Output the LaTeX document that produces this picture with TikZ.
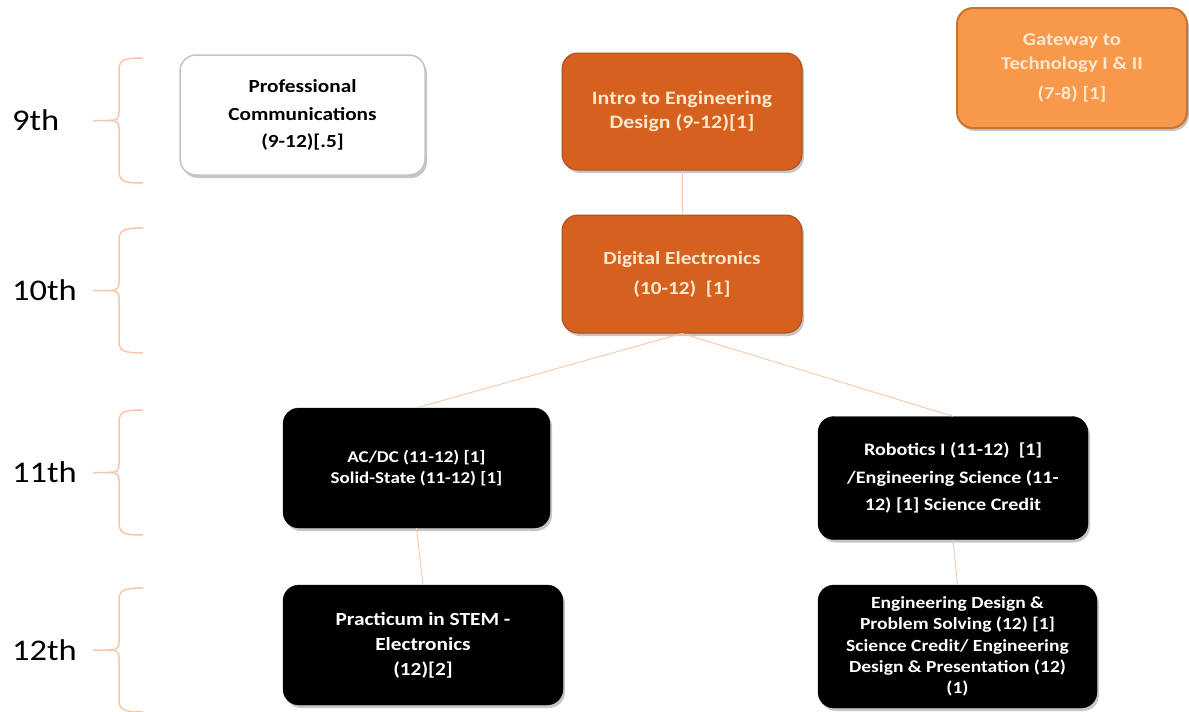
\documentclass[tikz,border=0pt]{standalone}
\usepackage{fontspec}
\setmainfont{Carlito}[FakeStretch=1.15]
\usetikzlibrary{shadows}
\definecolor{orangeA}{RGB}{214,96,30}
\definecolor{orangeB}{RGB}{247,152,74}
\definecolor{orangeBd}{RGB}{200,116,48}
\definecolor{cream}{RGB}{252,232,205}
\definecolor{peach}{RGB}{246,200,170}
\definecolor{graybd}{RGB}{200,195,190}
\tikzset{
  box/.style={rounded corners=16pt, align=center, font=\bfseries, inner sep=0pt,
    drop shadow={shadow xshift=2pt, shadow yshift=-3pt, opacity=0.45}},
  whitebox/.style={box, draw=graybd, line width=1.5pt, fill=white, text=black},
  orangebox/.style={box, draw=orangeA!80!black, line width=1pt, fill=orangeA, text=cream},
  gatebox/.style={box, draw=orangeBd, line width=2pt, fill=orangeB, text=cream, drop shadow={opacity=0}},
  blackbox/.style={box, draw=black, fill=black, text=white},
  link/.style={draw=peach, line width=0.9pt},
  bracepath/.style={draw=peach, line width=1.5pt},
  grade/.style={font=\fontsize{30}{32}\selectfont, anchor=west, inner sep=0pt}
}
\begin{document}
\begin{tikzpicture}[x=1pt,y=-1pt]
\useasboundingbox (0,0) rectangle (1189,712);

% grade braces
\foreach \t/\b/\lab/\nm in {58/183/9th/g9, 228/353/10th/g10, 410/535/11th/g11, 588/712/12th/g12}{
  \pgfmathsetmacro{\m}{(\t+\b)/2}
  \draw[bracepath] (143,\t) .. controls (124,\t) and (119,\t+2) .. (119,\t+12)
     -- (119,\m-8) .. controls (119,\m-1) and (116,\m) .. (108,\m) -- (93,\m);
  \draw[bracepath] (143,\b) .. controls (124,\b) and (119,\b-2) .. (119,\b-12)
     -- (119,\m+8) .. controls (119,\m+1) and (116,\m) .. (108,\m);
  \node[grade] (\nm) at (12,\m) {\lab};
}

% boxes
\node[whitebox, minimum width=245pt, minimum height=120pt, font=\bfseries\fontsize{18.5}{27.5}\selectfont]
  (prof) at (302.5,115) {Professional\\Communications\\(9-12)[.5]};
\node[orangebox, minimum width=240pt, minimum height=117pt, font=\bfseries\fontsize{19}{24.5}\selectfont]
  (intro) at (682,111.5) {Intro to Engineering\\Design (9-12)[1]};
\node[gatebox, minimum width=230pt, minimum height=120pt, font=\bfseries\fontsize{18}{24}\selectfont]
  (gate) at (1072,68) {Gateway to\\Technology I \& II\\[6pt](7-8) [1]};
\node[orangebox, minimum width=240pt, minimum height=118pt, font=\bfseries\fontsize{18.5}{30}\selectfont]
  (digi) at (682,274) {Digital Electronics\\(10-12)\ \ [1]};
\node[blackbox, minimum width=267pt, minimum height=120pt, font=\bfseries\fontsize{16.5}{20.5}\selectfont]
  (acdc) at (416.5,468) {AC/DC (11-12) [1]\\Solid-State (11-12) [1]};
\node[blackbox, minimum width=270pt, minimum height=123pt, font=\bfseries\fontsize{17.5}{27.5}\selectfont]
  (robo) at (953,478) {Robotics I (11-12)\ \ [1]\\/Engineering Science (11-\\12) [1] Science Credit};
\node[blackbox, minimum width=280pt, minimum height=120pt, font=\bfseries\fontsize{18.5}{25}\selectfont]
  (prac) at (423,645) {Practicum in STEM -\\Electronics\\(12)[2]};
\node[blackbox, minimum width=279pt, minimum height=123pt, font=\bfseries\fontsize{17}{21.3}\selectfont]
  (engd) at (957.5,646.5) {Engineering Design \&\\Problem Solving (12) [1]\\Science Credit/ Engineering\\Design \& Presentation (12)\\(1)};

% connectors
\draw[link] (intro.south) -- (digi.north);
\draw[link] (digi.south) -- (acdc.north);
\draw[link] (digi.south) -- (robo.north);
\draw[link] (acdc.south) -- (prac.north);
\draw[link] (robo.south) -- (engd.north);
\end{tikzpicture}
\end{document}
